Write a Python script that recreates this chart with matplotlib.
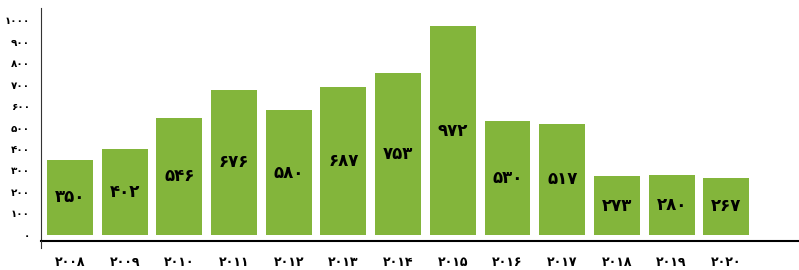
import matplotlib
matplotlib.use("Agg")
import matplotlib.pyplot as plt
from matplotlib.lines import Line2D

years = [2008, 2009, 2010, 2011, 2012, 2013, 2014, 2015, 2016, 2017, 2018, 2019, 2020]
values = [350, 402, 546, 676, 580, 687, 753, 972, 530, 517, 273, 280, 267]
yticks = list(range(0, 1001, 100))

FA = str.maketrans("0123456789", "۰۱۲۳۴۵۶۷۸۹")
def fa(n):
    return str(n).translate(FA)

plt.rcParams['font.family'] = ['DejaVu Sans']

fig = plt.figure(figsize=(7.99, 2.70), dpi=100)
ax = fig.add_axes([41/799, 1-241/270, 1-41/799, (241-8)/270])

x = list(range(len(years)))
bars = ax.bar(x, values, width=0.84, color='#83B53B')
for xi, v in zip(x, values):
    ax.text(xi, v/2, fa(v), ha='center', va='center', fontsize=12,
            fontweight='bold', color='black')

ax.set_xlim(-0.53, 13.33)
ax.set_ylim(-28, 1056)
ax.set_yticks(yticks)
ax.set_yticklabels([fa(t) for t in yticks], fontsize=7.5, fontweight='bold')
ax.set_xticks(x)
ax.set_xticklabels([fa(y) for y in years], fontsize=9, fontweight='bold')
ax.tick_params(axis='both', length=0)
ax.tick_params(axis='y', pad=8)
ax.tick_params(axis='x', pad=11)
for s in ['top', 'right']:
    ax.spines[s].set_visible(False)
ax.spines['left'].set_color('#333333')
ax.spines['bottom'].set_color('black')
ax.spines['bottom'].set_linewidth(1.5)

# small extension of y axis below x axis
fig.add_artist(Line2D([41/799, 41/799], [1-241/270, 1-248/270], color='#333333', lw=0.8))

fig.savefig("out.png", dpi=100)
